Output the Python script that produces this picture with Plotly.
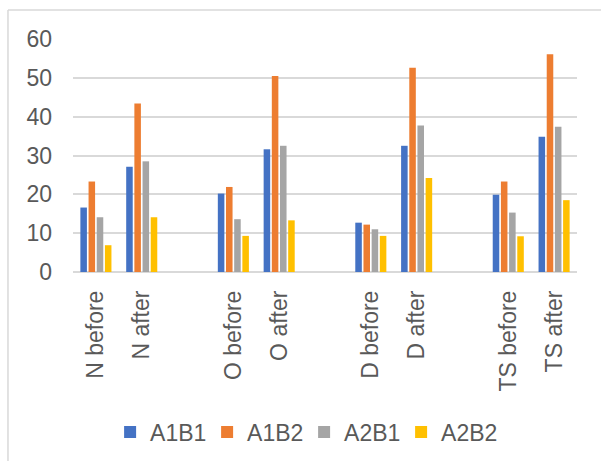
import plotly.graph_objects as go

# Category axis: blank entries separate the four measure groups
categories = ["N before", "N after", " ", "O before", "O after", "  ",
              "D before", "D after", "   ", "TS before", "TS after"]

a1b1 = [16.6, 27.1, None, 20.2, 31.6, None, 12.7, 32.5, None, 19.9, 34.8]
a1b2 = [23.3, 43.4, None, 21.9, 50.5, None, 12.2, 52.6, None, 23.3, 56.1]
a2b1 = [14.1, 28.5, None, 13.6, 32.5, None, 11.0, 37.7, None, 15.3, 37.4]
a2b2 = [6.9, 14.1, None, 9.3, 13.3, None, 9.3, 24.2, None, 9.2, 18.5]

series = [
    ("A1B1", a1b1, "#4472C4"),
    ("A1B2", a1b2, "#ED7D31"),
    ("A2B1", a2b1, "#A5A5A5"),
    ("A2B2", a2b2, "#FFC000"),
]

y_ticks = [0, 10, 20, 30, 40, 50, 60]

fig = go.Figure()
for name, vals, color in series:
    fig.add_trace(go.Bar(
        x=categories, y=vals, name=name,
        marker=dict(color=color, line=dict(width=0)),
    ))

text_color = "#595959"
grid_color = "#D9D9D9"

fig.update_layout(
    width=601, height=461,
    margin=dict(l=73, r=24, t=39, b=189),
    paper_bgcolor="white", plot_bgcolor="white",
    font=dict(family="Liberation Sans, Arial, sans-serif", color=text_color, size=23),
    barmode="group", bargap=0.286, bargroupgap=0.2,
    showlegend=True,
    legend=dict(
        orientation="h", xref="container", yref="container",
        x=0.506, xanchor="center", y=0.063, yanchor="middle",
        font=dict(size=23, color=text_color), bgcolor="rgba(0,0,0,0)",
        traceorder="normal", entrywidth=52, entrywidthmode="pixels",
    ),
    xaxis=dict(
        type="category", categoryorder="array", categoryarray=categories,
        range=[-0.5, len(categories) - 0.5], automargin=False,
        tickangle=-90, showgrid=False, zeroline=False,
        showline=False, ticks="", ticklabelstandoff=13,
        tickfont=dict(size=23, color=text_color),
    ),
    yaxis=dict(
        range=[0, 60], tickvals=y_ticks, automargin=False,
        showgrid=True, gridcolor=grid_color,
        gridwidth=1.5, zeroline=True, zerolinecolor=grid_color, zerolinewidth=1.5,
        showline=False, ticks="", ticklabelstandoff=20,
        tickfont=dict(size=23, color=text_color),
    ),
    shapes=[
        # chart-area frame (left and top edges)
        dict(type="line", xref="paper", yref="paper",
             x0=-0.129, x1=-0.129, y0=1.124, y1=-2,
             line=dict(color=grid_color, width=1.5)),
        dict(type="line", xref="paper", yref="paper",
             x0=-0.129, x1=2, y0=1.124, y1=1.124,
             line=dict(color=grid_color, width=1.5)),
    ],
)

fig.write_html("out.html")
